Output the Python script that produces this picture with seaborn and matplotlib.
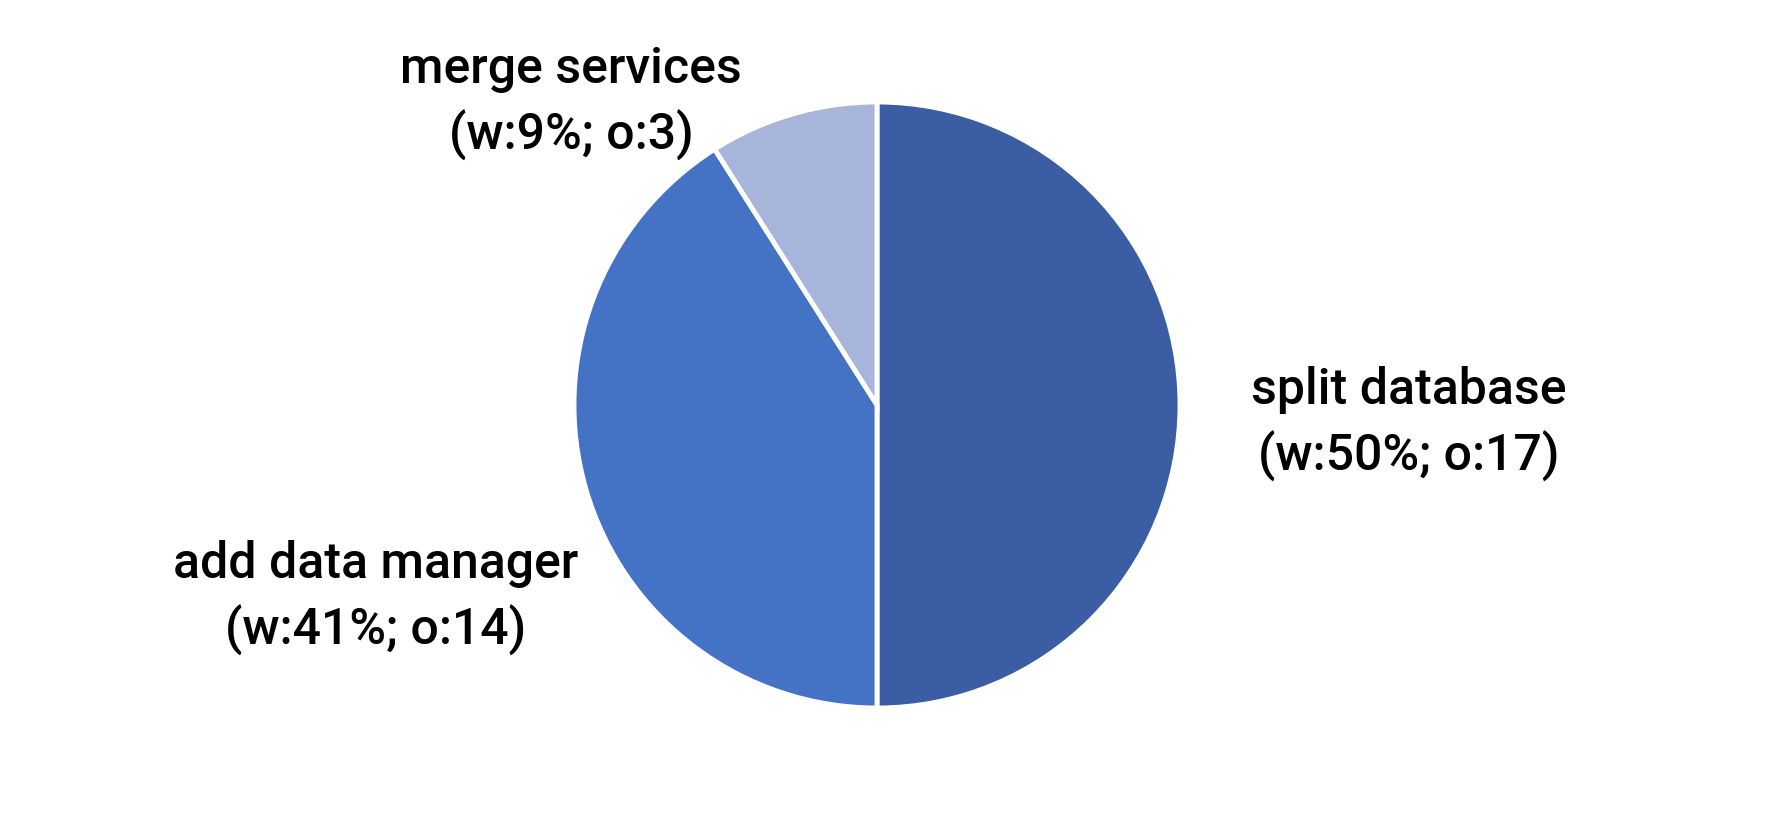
import matplotlib
matplotlib.use("Agg")
import matplotlib.pyplot as plt
import seaborn as sns

# data
labels = ["split database", "add data manager", "merge services"]
weights = [50, 41, 9]
counts = [17, 14, 3]
colors = ["#3A5DA3", "#4472C4", "#A8B5DA"]

# label anchor points (pixels, from top-left)
label_pos = [(1409, 424), (376, 598), (571, 103)]

sns.set_theme(style="white")
plt.rcParams["font.family"] = ["Roboto", "DejaVu Sans"]

W, H = 1772, 827
fig = plt.figure(figsize=(W / 100, H / 100), dpi=100)
ax = fig.add_axes([0, 0, 1, 1])
ax.set_xlim(0, W)
ax.set_ylim(0, H)
ax.set_aspect("equal")
ax.axis("off")

ax.pie(weights, colors=colors, startangle=90, counterclock=False,
       center=(877, H - 405), radius=303,
       wedgeprops=dict(edgecolor="white", linewidth=3.5))
ax.set_xlim(0, W)
ax.set_ylim(0, H)

for lab, w, o, (x, y) in zip(labels, weights, counts, label_pos):
    ax.text(x, H - y, f"{lab}\n(w:{w}%; o:{o})", ha="center", va="center",
            fontsize=36, fontweight="medium", color="black", linespacing=1.4)

fig.savefig("out.png", dpi=100, facecolor="white")
